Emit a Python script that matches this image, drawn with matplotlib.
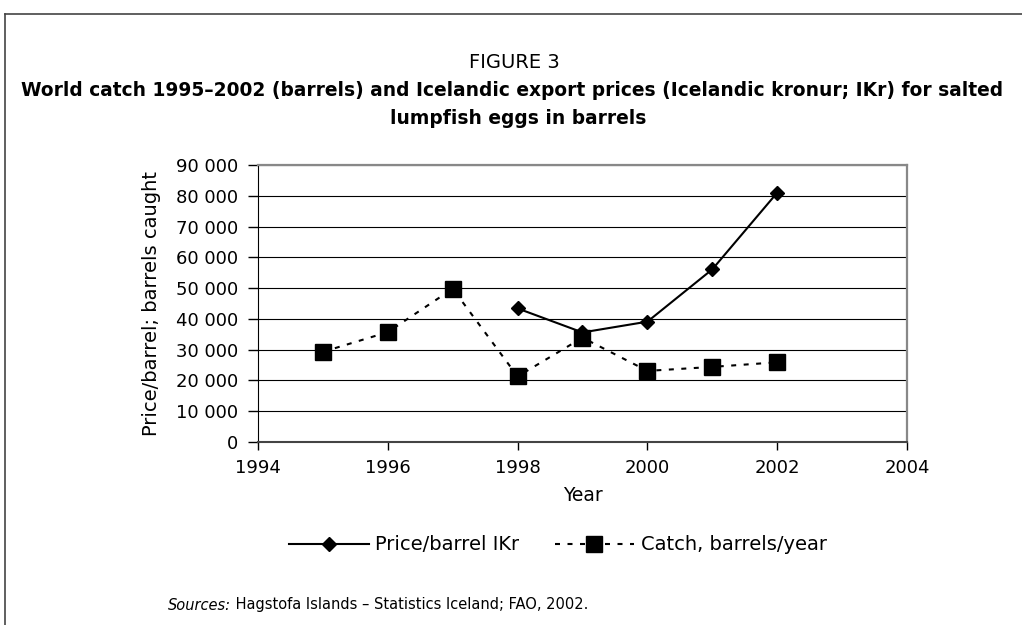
import matplotlib
matplotlib.use("Agg")
import matplotlib.pyplot as plt
from matplotlib.lines import Line2D
from matplotlib.ticker import FuncFormatter

# data
catch_years = [1995, 1996, 1997, 1998, 1999, 2000, 2001, 2002]
catch = [29300, 35700, 49800, 21300, 33900, 23100, 24400, 25900]
price_years = [1998, 1999, 2000, 2001, 2002]
price = [43400, 35600, 39100, 56100, 81000]
x_ticks = [1994, 1996, 1998, 2000, 2002, 2004]
y_ticks = list(range(0, 90001, 10000))

plt.rcParams['font.family'] = ['DejaVu Sans']

W, H = 1022, 625
fig = plt.figure(figsize=(W / 100, H / 100), dpi=100)

# page frame (top and left edges)
fig.add_artist(Line2D([5/W, 1], [1-14/H, 1-14/H], color='#444', lw=1.2))
fig.add_artist(Line2D([5/W, 5/W], [0, 1-14/H], color='#444', lw=1.2))

fig.text(514/W, 1-63/H, 'FIGURE 3', ha='center', va='center', fontsize=14)
fig.text(512/W, 1-91/H, 'World catch 1995\u20132002 (barrels) and Icelandic export prices (Icelandic kronur; IKr) for salted',
         ha='center', va='center', fontsize=13.4, fontweight='bold')
fig.text(518/W, 1-118/H, 'lumpfish eggs in barrels', ha='center', va='center',
         fontsize=13.4, fontweight='bold')

ax = fig.add_axes([258/W, 183/H, 649/W, 277/H])
ax.plot(price_years, price, color='black', lw=1.5, marker='D', ms=7.5, label='Price/barrel IKr')
ax.plot(catch_years, catch, color='black', lw=1.5, ls=(0, (2.4, 3.6)), marker='s', ms=11,
        label='Catch, barrels/year')

ax.set_xlim(1994, 2004)
ax.set_ylim(0, 90000)
ax.set_xticks(x_ticks)
ax.set_yticks(y_ticks)
ax.yaxis.set_major_formatter(FuncFormatter(lambda v, p: f'{int(v):,}'.replace(',', ' ')))
ax.yaxis.grid(True, color='black', lw=0.8)
ax.set_axisbelow(True)
ax.tick_params(axis='both', direction='out', width=1, labelsize=13, colors='black')
ax.tick_params(axis='x', length=6, pad=6)
ax.tick_params(axis='y', length=7, pad=7)
for s in ['top', 'right']:
    ax.spines[s].set_color('#888')
    ax.spines[s].set_linewidth(1.6)
ax.spines['left'].set_color('black')
ax.spines['bottom'].set_color('#444')
ax.spines['bottom'].set_linewidth(1.5)

ax.set_xlabel('Year', fontsize=13.5, labelpad=7)
ax.set_ylabel('Price/barrel; barrels caught', fontsize=14, labelpad=11)

ax.legend(loc='center', bbox_to_anchor=(558/W, 1-545/H), bbox_transform=fig.transFigure,
          ncol=2, frameon=False, fontsize=14, handlelength=4.1, columnspacing=1.8,
          handletextpad=0.35)

# source line: italic lead-in, then the rest right after it
src = fig.text(168/W, 1-605/H, 'Sources:', ha='left', va='center', fontsize=10.5, style='italic')
fig.canvas.draw()
bb = src.get_window_extent()
fig.text(bb.x1 / W, 1-605/H, ' Hagstofa Islands \u2013 Statistics Iceland; FAO, 2002.',
         ha='left', va='center', fontsize=10.5)

fig.savefig('out.png', dpi=100)
